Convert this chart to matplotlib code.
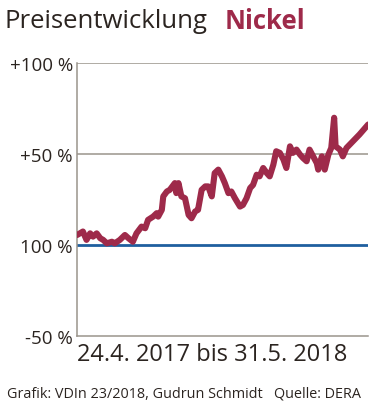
import matplotlib.pyplot as plt

# Tage seit 24.4.2017 und Preisentwicklung in %
tage = [0, 8, 13, 18, 22, 27, 32, 36, 41, 48, 52, 59, 66, 71, 77, 82, 89, 94, 98, 105,
        110, 112, 117, 119, 124, 128, 135, 137, 140, 144, 149, 154, 158, 163, 167, 172,
        177, 181, 186, 190, 195, 200, 204, 209, 213, 218, 225, 229, 234, 239, 243, 248,
        252, 257, 262, 266, 271, 275, 280, 285, 289, 294, 298, 303, 308, 312, 317, 321,
        326, 331, 333, 338, 342, 347, 351, 355, 357, 363, 367, 372, 381, 390, 402]
werte = [5.5, 7.4, 2.8, 6.4, 4.6, 6.4, 3.7, 2.8, 0.9, 1.8, 0.9, 2.8, 5.5, 3.7, 1.8, 6.4,
         10.1, 9.2, 13.8, 15.6, 17.5, 15.6, 19.3, 26.7, 29.4, 30.3, 34.0, 28.5, 34.0, 26.7,
         25.7, 16.5, 14.7, 18.4, 19.3, 30.3, 32.2, 32.2, 26.7, 39.5, 41.4, 37.7, 34.0, 28.5,
         29.4, 25.7, 21.1, 22.0, 25.7, 31.3, 33.0, 38.6, 37.7, 42.3, 39.5, 37.7, 44.1, 51.5,
         50.6, 46.9, 42.3, 54.2, 50.6, 52.4, 49.6, 47.8, 46.0, 52.4, 48.7, 45.0, 41.4, 48.7,
         41.4, 49.6, 53.3, 69.9, 54.2, 52.4, 48.7, 53.3, 57.0, 60.7, 66.2]

yticks = [-50, 0, 50, 100]
ylabels = ['-50 %', '100 %', '+50 %', '+100 %']

plt.rcParams['font.family'] = ['Open Sans', 'DejaVu Sans']
textfarbe = '#2b2420'
rot = '#9e2a4a'

fig = plt.figure(figsize=(3.78, 4.10), dpi=100)
ax = fig.add_axes([0.204, 0.178, 0.770, 0.666])

for y in [50, 100]:
    ax.axhline(y, color='#9a948c', lw=1.1, zorder=1)
ax.axhline(0, color='#1f5f9f', lw=2, zorder=2)
ax.plot(tage, werte, color=rot, lw=4.4, solid_joinstyle='round', solid_capstyle='round', zorder=3)

ax.set_xlim(0, 402)
ax.set_ylim(-50, 100)
ax.set_xticks([])
ax.set_yticks(yticks)
ax.set_yticklabels(ylabels, fontsize=13.5, color=textfarbe)
ax.tick_params(axis='y', length=0, pad=3)
for s in ['top', 'right']:
    ax.spines[s].set_visible(False)
for s in ['left', 'bottom']:
    ax.spines[s].set_color('#9a948c')
    ax.spines[s].set_linewidth(1.1)

t = fig.text(0.012, 0.948, 'Preisentwicklung', fontsize=18.5, color=textfarbe, va='center')
fig.text(0.595, 0.948, 'Nickel', fontsize=18.5, color=rot, fontweight='bold', va='center')
fig.text(0.203, 0.133, '24.4. 2017 bis 31.5. 2018', fontsize=17, color=textfarbe, va='center')
fig.text(0.018, 0.04, 'Grafik: VDIn 23/2018, Gudrun Schmidt   Quelle: DERA', fontsize=10.4,
         color=textfarbe, va='center')

fig.savefig('out.png', dpi=100)
